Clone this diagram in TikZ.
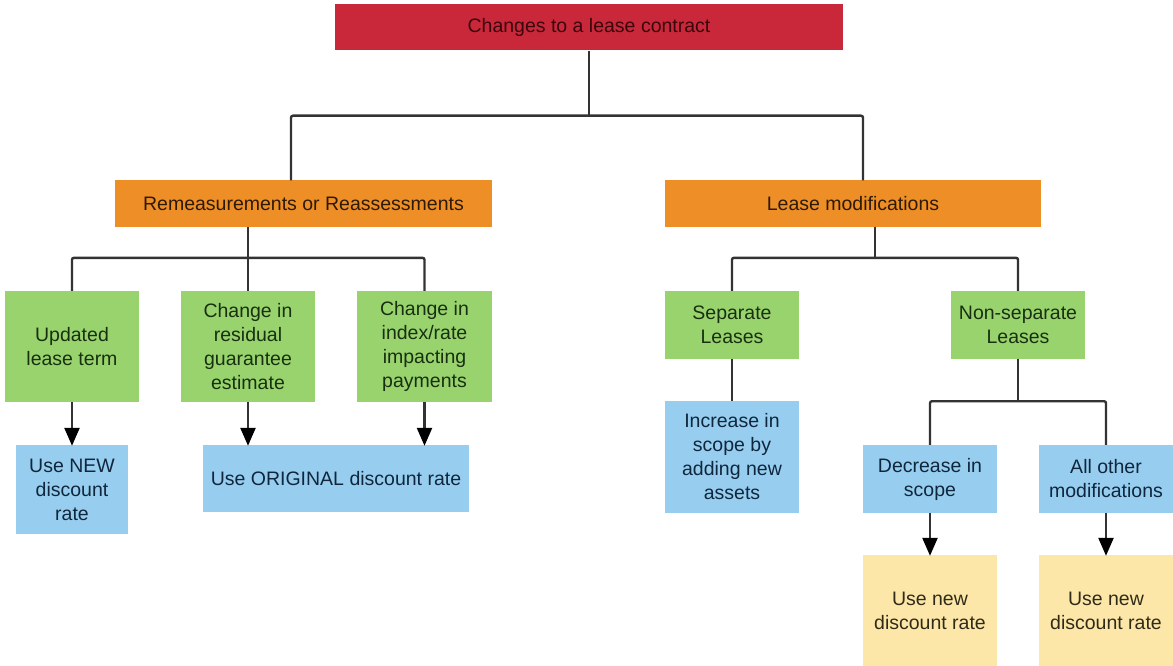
\documentclass[tikz,border=0pt]{standalone}
\usepackage{fontspec}
\setmainfont{Liberation Sans}
\usetikzlibrary{arrows.meta,calc}
\definecolor{cred}{HTML}{C8283A}
\definecolor{tred}{HTML}{3A060C}
\definecolor{corange}{HTML}{EE8E27}
\definecolor{torange}{HTML}{2E1A04}
\definecolor{cgreen}{HTML}{99D36E}
\definecolor{tgreen}{HTML}{18300F}
\definecolor{cblue}{HTML}{97CEF0}
\definecolor{tblue}{HTML}{10263C}
\definecolor{cyellow}{HTML}{FCE7A8}
\definecolor{tyellow}{HTML}{302A18}
\definecolor{cline}{HTML}{333333}
\begin{document}
\begin{tikzpicture}[x=1pt,y=-1pt,
  box/.style={rectangle,inner sep=0pt,align=center,font=\fontsize{19.5}{24}\selectfont},
  redbox/.style={box,fill=cred,text=tred},
  orangebox/.style={box,fill=corange,text=torange},
  greenbox/.style={box,fill=cgreen,text=tgreen},
  bluebox/.style={box,fill=cblue,text=tblue},
  yellowbox/.style={box,fill=cyellow,text=tyellow},
  conn/.style={draw=cline,line width=2.4pt,rounded corners=2pt},
  arr/.style={conn,-{Triangle[width=15pt,length=18pt,fill=black,color=black]},shorten >=-1pt}]
\useasboundingbox (0,0) rectangle (1173,666);
% nodes
\node[redbox,minimum width=508,minimum height=46] (root) at (589,27.5) {Changes to a lease contract};
\node[orangebox,minimum width=377,minimum height=46] (rl) at (303.5,203.5) {Remeasurements or Reassessments};
\node[orangebox,minimum width=376,minimum height=46] (rm) at (853,203.5) {Lease modifications};
\node[greenbox,minimum width=134,minimum height=111] (g1) at (72,346.5) {Updated\\lease term};
\node[greenbox,minimum width=134,minimum height=111] (g2) at (248,346.5) {Change in\\residual\\guarantee\\estimate};
\node[greenbox,minimum width=135,minimum height=111] (g3) at (424.5,346.5) {Change in\\index/rate\\impacting\\payments};
\node[bluebox,minimum width=112,minimum height=89] (b1) at (72,489.5) {Use NEW\\discount\\rate};
\node[bluebox,minimum width=266,minimum height=67] (bo) at (336,478.5) {Use ORIGINAL discount rate};
\node[greenbox,minimum width=134,minimum height=68] (s1) at (732,325) {Separate\\Leases};
\node[greenbox,minimum width=134,minimum height=68] (s2) at (1018,325) {Non-separate\\Leases};
\node[bluebox,minimum width=134,minimum height=112] (inc) at (732,457) {Increase in\\scope by\\adding new\\assets};
\node[bluebox,minimum width=134,minimum height=68] (dec) at (930,479) {Decrease in\\scope};
\node[bluebox,minimum width=134,minimum height=68] (oth) at (1106,479) {All other\\modifications};
\node[yellowbox,minimum width=134,minimum height=111] (y1) at (930,610.5) {Use new\\discount rate};
\node[yellowbox,minimum width=134,minimum height=111] (y2) at (1106,610.5) {Use new\\discount rate};
% connectors
\coordinate (top) at ($(root.south)+(0,65)$);
\draw[conn] (root.south) -- (top);
\draw[conn] (top) -| ($(rl.north)+(-12.5,0)$);
\draw[conn] (top) -| ($(rm.north)+(10,0)$);
\draw[conn] (g2.north) -- (g2.north |- rl.south);
\draw[conn] (g1.north) -- ++(0,-33) -| (g3.north);
\draw[arr] (g1.south) -- (b1.north);
\draw[arr] (g2.south) -- (g2.south |- bo.north);
\draw[arr] (g3.south) -- (g3.south |- bo.north);
\draw[conn] ($(rm.south)+(22,0)$) -- ++(0,32);
\draw[conn] (s1.north) -- ++(0,-33) -| (s2.north);
\draw[conn] (s1.south) -- (inc.north);
\coordinate (fork) at ($(s2.south)+(0,42)$);
\draw[conn] (s2.south) -- (fork);
\draw[conn] (dec.north) |- (fork) -| (oth.north);
\draw[arr] (dec.south) -- (y1.north);
\draw[arr] (oth.south) -- (y2.north);
\end{tikzpicture}
\end{document}
